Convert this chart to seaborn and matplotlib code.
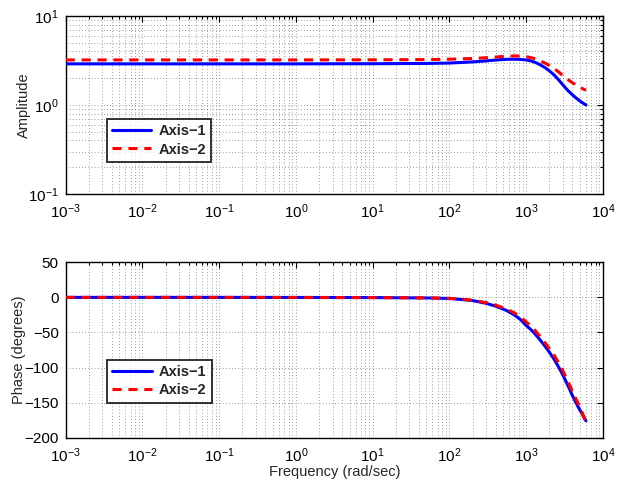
import numpy as np
import pandas as pd
import matplotlib
matplotlib.use("Agg")
import matplotlib.pyplot as plt
import matplotlib.ticker as mticker
import seaborn as sns

# ---- data ----
freq = [1e-3, 1e-2, 1e-1, 1, 10, 50, 100, 200, 300, 400, 550, 700, 850, 1000,
        1150, 1300, 1500, 1770, 2000, 2300, 2600, 2890, 3200, 3500, 4000, 4400, 4800, 5400, 6000]
amp_axis1 = [2.90, 2.90, 2.90, 2.90, 2.91, 2.93, 2.96, 3.05, 3.13, 3.20, 3.26, 3.27, 3.25, 3.21,
             3.13, 3.02, 2.85, 2.62, 2.42, 2.18, 1.95, 1.75, 1.58, 1.45, 1.30, 1.21, 1.14, 1.06, 1.00]
amp_axis2 = [3.21, 3.21, 3.21, 3.21, 3.22, 3.24, 3.27, 3.33, 3.40, 3.46, 3.53, 3.56, 3.54, 3.49,
             3.41, 3.31, 3.15, 2.95, 2.78, 2.57, 2.38, 2.20, 2.05, 1.93, 1.78, 1.69, 1.62, 1.53, 1.46]
phase_axis1 = [0.0, 0.0, 0.0, -0.1, -0.3, -0.8, -1.5, -4.5, -8.5, -12.5, -18.5, -25, -32, -40,
               -46, -52, -60, -70, -78, -88, -98, -107, -117, -126, -140, -149, -157, -167, -176]
phase_axis2 = [0.0, 0.0, 0.0, -0.1, -0.3, -0.7, -1.3, -4.0, -7.5, -11.0, -16.5, -22, -28.5, -35,
               -41, -47, -55, -65, -73, -82, -92, -101, -111, -120, -134, -144, -152, -165, -178]
series_names = ["Axis\u22121", "Axis\u22122"]
x_tick_exps = [-3, -2, -1, 0, 1, 2, 3, 4]
amp_tick_exps = [-1, 0, 1]
phase_ticks = [-200, -150, -100, -50, 0, 50]

df = pd.concat([
    pd.DataFrame({"freq": freq, "amp": amp_axis1, "phase": phase_axis1, "series": series_names[0]}),
    pd.DataFrame({"freq": freq, "amp": amp_axis2, "phase": phase_axis2, "series": series_names[1]}),
])

sns.set_style("white")
plt.rcParams["font.family"] = ["Liberation Sans", "DejaVu Sans"]
plt.rcParams["mathtext.fontset"] = "custom"
plt.rcParams["mathtext.rm"] = "Liberation Sans"
plt.rcParams["mathtext.it"] = "Liberation Sans"
plt.rcParams["axes.unicode_minus"] = True

fig = plt.figure(figsize=(6.25, 4.83), dpi=100)
W, H = 625, 483
ax1 = fig.add_axes([65.7 / W, 1 - 194 / H, (603 - 65.7) / W, (194 - 16) / H])
ax2 = fig.add_axes([65.7 / W, 1 - 437.7 / H, (603 - 65.7) / W, (437.7 - 262.3) / H])

palette = {series_names[0]: "#0000ff", series_names[1]: "#ff0000"}
dashes = {series_names[0]: "", series_names[1]: (3, 2.2)}
grid_kw = dict(color="#444444", linestyle=(0, (1, 3.5)), linewidth=0.5)


def pow_label(e):
    return r"$10^{%s}$" % ("\u2212%d" % (-e) if e < 0 else "%d" % e)


minor_x = [m * 10.0 ** e for e in x_tick_exps[:-1] for m in range(2, 10)]

for ax, col in ((ax1, "amp"), (ax2, "phase")):
    sns.lineplot(data=df, x="freq", y=col, hue="series", style="series",
                 palette=palette, dashes=dashes, linewidth=2.2, ax=ax,
                 estimator=None, sort=False, zorder=3)
    ax.set_xscale("log")
    ax.set_xlim(1e-3, 1e4)
    ax.xaxis.set_major_locator(mticker.FixedLocator([10.0 ** e for e in x_tick_exps]))
    ax.xaxis.set_major_formatter(mticker.FixedFormatter([pow_label(e) for e in x_tick_exps]))
    ax.xaxis.set_minor_locator(mticker.FixedLocator(minor_x))
    ax.xaxis.set_minor_formatter(mticker.NullFormatter())
    ax.grid(True, which="major", axis="both", **grid_kw)
    ax.grid(True, which="minor", axis="x", **grid_kw)
    ax.tick_params(which="both", direction="in", top=True, right=True, labelsize=11,
                   colors="black", width=0.8)
    ax.tick_params(which="major", length=4)
    ax.tick_params(which="minor", length=2)
    ax.tick_params(axis="x", which="major", pad=6)
    ax.tick_params(axis="y", which="major", pad=5)
    for s in ax.spines.values():
        s.set_color("black")
        s.set_linewidth(1.0)
    ax.set_axisbelow(True)
    leg = ax.legend(loc="upper left", frameon=True, fancybox=False, edgecolor="black",
                    handlelength=2.7, handletextpad=0.5, borderpad=0.35, labelspacing=0.3,
                    borderaxespad=0.0, prop={"weight": "bold", "size": 10.5})
    leg.get_frame().set_linewidth(1.4)

# amplitude axes
ax1.set_yscale("log")
ax1.set_ylim(0.1, 10)
ax1.yaxis.set_major_locator(mticker.FixedLocator([10.0 ** e for e in amp_tick_exps]))
ax1.yaxis.set_major_formatter(mticker.FixedFormatter([pow_label(e) for e in amp_tick_exps]))
ax1.yaxis.set_minor_locator(mticker.FixedLocator([m * 10.0 ** e for e in amp_tick_exps[:-1] for m in range(2, 10)]))
ax1.yaxis.set_minor_formatter(mticker.NullFormatter())
ax1.grid(True, which="minor", axis="y", **grid_kw)
ax1.set_xlabel("")
ax1.set_ylabel("Amplitude", fontsize=10.5)
ax1.yaxis.set_label_coords(-0.064, 0.5)
ax1.legend_.set_bbox_to_anchor((0.076, 0.421))

# phase axes
ax2.set_ylim(-200, 50)
ax2.yaxis.set_major_locator(mticker.FixedLocator(phase_ticks))
ax2.yaxis.set_major_formatter(mticker.FixedFormatter([f"{v}".replace("-", "\u2212") for v in phase_ticks]))
ax2.set_xlabel("Frequency (rad/sec)", fontsize=10.5)
ax2.xaxis.set_label_coords(0.5, -0.157)
ax2.set_ylabel("Phase (degrees)", fontsize=10.5)
ax2.yaxis.set_label_coords(-0.074, 0.5)
ax2.legend_.set_bbox_to_anchor((0.077, 0.443))

fig.savefig("out.png", dpi=100)
